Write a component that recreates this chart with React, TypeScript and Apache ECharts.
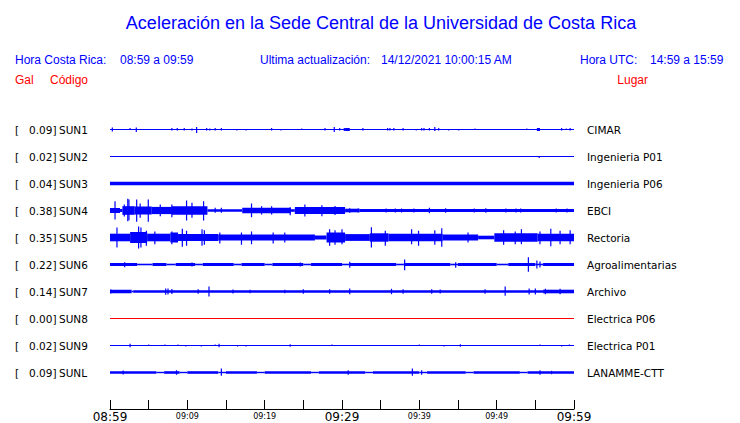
import React, { useEffect, useRef } from "react";
import * as echarts from "echarts";

// Station metadata
const codes = ["SUN1", "SUN2", "SUN3", "SUN4", "SUN5", "SUN6", "SUN7", "SUN8", "SUN9", "SUNL"];
const places = ["CIMAR", "Ingenieria P01", "Ingenieria P06", "EBCI", "Rectoria", "Agroalimentarias", "Archivo", "Electrica P06", "Electrica P01", "LANAMME-CTT"];
const peaks = [0.09, 0.02, 0.04, 0.38, 0.35, 0.22, 0.14, 0.0, 0.02, 0.09];
const traceColors = ["#0000ff", "#0000ff", "#0000ff", "#0000ff", "#0000ff", "#0000ff", "#0000ff", "#ff0000", "#0000ff", "#0000ff"];

// x-axis tick labels every 10 minutes (minutes since 08:59)
const tickLabels = ["08:59", "09:09", "09:19", "09:29", "09:39", "09:49", "09:59"];
const majorLabels = ["08:59", "09:29", "09:59"];

// Header texts
const titleText = "Aceleración en la Sede Central de la Universidad de Costa Rica";
const localLabel = "Hora Costa Rica:";
const localRange = "08:59 a 09:59";
const updateLabel = "Ultima actualización:";
const updateValue = "14/12/2021 10:00:15 AM";
const utcLabel = "Hora UTC:";
const utcRange = "14:59 a 15:59";

// Envelope segments per trace: [tStart (min), tEnd (min), half-amplitude]
const segSUN1 = [[0, 60, 0.5], [30.4, 31.0, 1.5], [55.2, 55.6, 1.5]];
const segSUN2 = [[0, 60, 0.5]];
const segSUN3 = [[0, 60, 1.7]];
const segSUN4 = [
  [0, 1.3, 2.5], [1.3, 1.6, 1.5], [1.6, 3.2, 4.3], [3.2, 5.4, 4], [5.4, 8, 3.6], [8, 12.6, 4.2],
  [12.6, 17.1, 1.3], [17.1, 23.4, 2.7], [23.4, 23.9, 1.3], [23.9, 30.4, 3.4], [30.4, 32.3, 1.8], [32.3, 60, 1.5],
];
const segSUN5 = [
  [0, 2.6, 3.8], [2.6, 4.8, 5.5], [4.8, 7.8, 3.8], [7.8, 8.8, 5], [8.8, 14, 3.4], [14, 26.5, 3],
  [26.5, 28, 2], [28, 30.4, 5], [30.4, 33.6, 3.4], [33.6, 36, 4.2], [36, 43, 3.8], [43, 47.6, 3],
  [47.6, 49.7, 1.8], [49.7, 55.3, 4.2], [55.3, 60, 3.8],
];
const segSUN6 = [
  [0, 3.5, 1.5], [3.5, 5.5, 0.8], [5.5, 7.3, 1.5], [7.3, 8.5, 0.8], [8.5, 11, 1.5], [11, 12, 0.8],
  [12, 16, 1.5], [16, 17, 0.8], [17, 20, 1.5], [20, 21, 0.8], [21, 25, 1.5], [25, 26, 0.8],
  [26, 30, 1.5], [30, 31, 0.8], [31, 37, 1.5], [37, 38, 0.8], [38, 44, 1.5], [44, 45, 0.8],
  [45, 50, 1.5], [50, 51.5, 0.8], [51.5, 55, 1.5], [55, 56, 0.8], [56, 60, 1.5],
];
const segSUN7 = [[0, 2.8, 1.7], [2.8, 3.0, 0.8], [3.0, 56, 1.3], [56, 60, 1.8]];
const segSUN8 = [[0, 60, 0.5]];
const segSUN9 = [[0, 60, 0.5]];
const segSUNL = [
  [0, 6, 1.3], [6, 7, 0.7], [7, 9, 1.3], [9, 10, 0.7], [10, 14, 1.3], [14, 15, 0.7], [15, 19, 1.3],
  [19, 20, 0.7], [20, 26, 1.3], [26, 27, 0.7], [27, 33, 1.3], [33, 34, 0.7], [34, 40, 1.3],
  [40, 41, 0.7], [41, 46, 1.3], [46, 47, 0.7], [47, 53, 1.3], [53, 54, 0.7], [54, 60, 1.3],
];

// Peaks / spikes per trace: [t (min), up, down]
const spkSUN1 = [
  [0.3, 2, 2], [2.6, 1.5, 0], [3.4, 2, 2.5], [8.0, 1.5, 1], [8.7, 1.5, 1], [9.6, 1.5, 1], [10.6, 1, 1],
  [11.2, 2.5, 3.5], [12.5, 1.5, 1], [12.9, 1, 1], [13.6, 1.5, 1], [14.4, 1.5, 1], [16.4, 0, 1],
  [17.6, 0, 1], [20.9, 1.5, 1], [22.1, 0, 1], [24.8, 1, 0], [27.8, 1.5, 1], [29.0, 2.5, 2.5],
  [29.7, 1.5, 1], [30.3, 1.5, 1.5], [32.7, 1.5, 1], [35.9, 1.5, 1], [36.2, 1.5, 1], [36.7, 1.5, 1],
  [37.9, 1.5, 1], [39.6, 0, 1], [40.3, 1.5, 1], [40.6, 1.5, 1], [41.3, 1.5, 1], [42.0, 2.5, 1.5],
  [42.5, 1.5, 1], [43.8, 0, 1], [45.1, 0, 1], [47.2, 1, 0], [53.9, 1, 0], [58.4, 1.5, 1],
  [59.0, 1, 0], [59.5, 1.5, 1],
];
const spkSUN2 = [[55.5, 0, 1.5]];
const spkSUN3: number[][] = [];
const spkSUN4 = [
  [0.65, 9.3, 9], [1.85, 6, 6], [2.3, 11.7, 10.7], [2.45, 11, 9.7], [3.45, 11, 11.3], [3.9, 7, 7.3],
  [4.95, 11, 11.3], [6.5, 6, 5.7], [8.0, 6, 6.7], [9.9, 10, 10], [10.6, 7.7, 7.3], [12.1, 9.3, 10],
  [13.6, 2.7, 2.3], [14.4, 2.7, 2.3], [18.3, 7, 6.7], [19.6, 4.3, 4], [20.9, 4.3, 4], [23.3, 3.3, 4.7],
  [25.2, 6, 6], [27.4, 5.3, 5.7], [29.1, 4.5, 4.5], [29.9, 2.7, 3.3], [31.0, 2.3, 2.3], [32.1, 2, 2],
  [35.7, 2, 2], [36.9, 2, 2], [37.7, 2, 2], [39.3, 2, 2], [41.3, 2.7, 2.7], [43.4, 2.3, 2.3],
  [47.1, 2, 2], [48.6, 2.3, 2.3], [51.2, 2, 2], [52.5, 2, 2], [53.1, 2, 2], [57.7, 2, 2], [59.1, 2, 2],
];
const spkSUN5 = [
  [0.9, 10, 10], [3.7, 11, 11], [4.0, 10, 10], [4.7, 6.7, 8.3], [5.8, 6, 6.7], [8.0, 6, 6.7],
  [9.35, 8.7, 9.3], [9.9, 6.7, 8.3], [11.9, 8.3, 8.3], [12.2, 7.3, 7.3], [14.2, 5, 6], [17.0, 5, 7.3],
  [18.3, 6, 6.7], [21.1, 5, 6], [22.6, 5, 5], [28.4, 8.3, 8.3], [29.1, 7.3, 7.3], [30.0, 8.3, 6.7],
  [33.8, 10.3, 10], [35.6, 6.7, 8.3], [39.0, 8.3, 6.7], [39.9, 6.7, 8.3], [42.0, 7.3, 7.3],
  [42.9, 9.3, 9.3], [46.3, 5, 5], [50.9, 7.3, 7.3], [52.4, 6, 6.7], [53.2, 8.3, 6.7], [55.6, 6, 6.7],
  [57.0, 8.7, 8.7], [58.2, 6.7, 6.7], [59.5, 7.3, 6.7],
];
const spkSUN6 = [
  [1.9, 2.3, 2.7], [10.6, 2, 2], [24.6, 2, 2], [31.0, 2.7, 3.3], [38.1, 5, 5.7], [44.7, 2.3, 3.3],
  [54.1, 7.3, 7.3], [55.2, 4, 4], [55.6, 3, 3],
];
const spkSUN7 = [
  [0.1, 2, 2], [7.2, 3, 3.3], [7.5, 3, 3], [8.0, 2.5, 2.5], [11.4, 2.3, 2.3], [12.8, 5, 5],
  [15.9, 2, 2], [18.1, 1.7, 1.7], [22.6, 1.7, 1.7], [25.0, 2.3, 2.3], [28.4, 2.3, 2.3], [31.0, 3, 2.7],
  [36.4, 2.7, 2.7], [37.9, 2.3, 2.3], [41.6, 2.3, 2.3], [42.7, 2, 2], [48.5, 2.3, 2.3], [51.1, 5, 4.3],
  [54.2, 3, 3], [55.0, 3, 3], [56.3, 2.7, 2.7], [58.2, 2.7, 2.7],
];
const spkSUN8: number[][] = [];
const spkSUN9 = [
  [2.6, 1.7, 1.7], [5.0, 1, 0], [7.1, 1, 0], [8.8, 1, 0], [9.8, 0, 1], [11.8, 0, 1], [13.6, 1, 0],
  [14.1, 1.7, 1.7], [16.5, 0, 1], [17.6, 0, 1], [23.3, 1.3, 1.3], [28.7, 1, 0], [40.0, 1, 0],
  [43.2, 0, 1], [45.3, 1.3, 1.3], [55.6, 1, 0], [58.4, 0, 1], [59.4, 1, 0],
];
const spkSUNL = [
  [1.7, 2, 2], [8.6, 2.3, 2.3], [14.4, 4, 3.3], [30.8, 2.3, 2.3], [39.1, 4, 3.3], [40.3, 2.3, 2.3],
  [55.6, 2.3, 2.3], [57.1, 1.7, 1.7],
];

const segments = [segSUN1, segSUN2, segSUN3, segSUN4, segSUN5, segSUN6, segSUN7, segSUN8, segSUN9, segSUNL];
const spikes = [spkSUN1, spkSUN2, spkSUN3, spkSUN4, spkSUN5, spkSUN6, spkSUN7, spkSUN8, spkSUN9, spkSUNL];

// layout helpers
const ROW0 = 13.5;
const ROW_GAP = 27;
const rowBase = (i: number) => ROW0 + ROW_GAP * i;

const BLUE = "#0000ff";
const RED = "#ff0000";
const HEADER_FONT = "'Liberation Sans', Arial, sans-serif";
const LABEL_FONT = "'DejaVu Sans', sans-serif";

export default function App() {
  const ref = useRef<HTMLDivElement>(null);

  useEffect(() => {
    document.body.style.margin = "0";
    if (!ref.current) return;
    const chart = echarts.init(ref.current, null, { renderer: "svg" });

    const bandData: number[][] = [];
    segments.forEach((segs, i) => segs.forEach((s) => bandData.push([i, s[0], s[1], s[2]])));
    const spikeData: number[][] = [];
    spikes.forEach((sp, i) => sp.forEach((s) => spikeData.push([i, s[0], s[1], s[2]])));
    const labelData = codes.map((_, i) => [i, 0]);

    const hdr = (text: string, x: number, y: number, color: string, size: number, align: string = "left") => ({
      type: "text",
      x,
      y,
      style: { text, fill: color, font: `${size}px ${HEADER_FONT}`, textAlign: align, textVerticalAlign: "middle" },
    });

    const option: any = {
      animation: false,
      backgroundColor: "#ffffff",
      grid: { left: 110, right: 166, top: 116, bottom: 14, containLabel: false },
      xAxis: {
        type: "value",
        min: 0,
        max: 60,
        interval: 5,
        splitLine: { show: false },
        axisLine: { show: true, onZero: false, lineStyle: { color: "#000", width: 1 } },
        axisTick: { show: true, inside: true, length: 9, lineStyle: { color: "#000", width: 1 } },
        axisLabel: {
          show: true,
          margin: 1,
          showMinLabel: true,
          showMaxLabel: true,
          formatter: (v: number) => {
            if (v % 10 !== 0) return "";
            const lab = tickLabels[v / 10];
            return majorLabels.includes(lab) ? `{big|${lab}}` : `{small|${lab}}`;
          },
          rich: {
            big: { fontFamily: LABEL_FONT, fontSize: 12, lineHeight: 14, color: "#000" },
            small: { fontFamily: LABEL_FONT, fontSize: 8, lineHeight: 12, color: "#000" },
          },
        },
      },
      yAxis: { type: "value", min: 0, max: 293, inverse: true, show: false, splitLine: { show: false } },
      graphic: [
        hdr(titleText, 381, 22.5, BLUE, 18, "center"),
        hdr(localLabel, 15, 60, BLUE, 12),
        hdr(localRange, 120, 60, BLUE, 12),
        hdr(updateLabel, 260, 60, BLUE, 12),
        hdr(updateValue, 381, 60, BLUE, 12),
        hdr(utcLabel, 580, 60, BLUE, 12),
        hdr(utcRange, 650, 60, BLUE, 12),
        hdr("Gal", 15, 80, RED, 12),
        hdr("Código", 50, 80, RED, 12),
        hdr("Lugar", 648, 80, RED, 12, "right"),
      ],
      series: [
        {
          type: "custom",
          name: "bands",
          clip: false,
          data: bandData,
          encode: { x: [1, 2], y: 0 },
          renderItem: (_p: any, api: any) => {
            const i = api.value(0);
            const hw = api.value(3);
            const base = rowBase(i);
            const p0 = api.coord([api.value(1), base - hw]);
            const p1 = api.coord([api.value(2), base + hw]);
            return {
              type: "rect",
              shape: { x: p0[0], y: p0[1], width: p1[0] - p0[0], height: p1[1] - p0[1] },
              style: { fill: traceColors[i] },
            };
          },
        },
        {
          type: "custom",
          name: "spikes",
          clip: false,
          data: spikeData,
          encode: { x: 1, y: 0 },
          renderItem: (_p: any, api: any) => {
            const i = api.value(0);
            const base = rowBase(i);
            const t = api.value(1);
            const p0 = api.coord([t, base - api.value(2)]);
            const p1 = api.coord([t, base + api.value(3)]);
            return {
              type: "rect",
              shape: { x: p0[0] - 0.6, y: p0[1], width: 1.2, height: Math.max(1, p1[1] - p0[1]) },
              style: { fill: traceColors[i] },
            };
          },
        },
        {
          type: "custom",
          name: "labels",
          clip: false,
          data: labelData,
          encode: { x: 1, y: 0 },
          renderItem: (_p: any, api: any) => {
            const i = api.value(0);
            const pL = api.coord([0, rowBase(i)]);
            const pR = api.coord([60, rowBase(i)]);
            const font = `10.5px ${LABEL_FONT}`;
            return {
              type: "group",
              children: [
                { type: "text", x: pL[0] - 95, y: pL[1], style: { text: "[", fill: "#000", font, textVerticalAlign: "middle" } },
                {
                  type: "text",
                  x: pL[0] - 53.5,
                  y: pL[1],
                  style: { text: `${peaks[i].toFixed(2)}]`, fill: "#000", font, textAlign: "right", textVerticalAlign: "middle" },
                },
                { type: "text", x: pL[0] - 51, y: pL[1], style: { text: codes[i], fill: "#000", font, textVerticalAlign: "middle" } },
                { type: "text", x: pR[0] + 13, y: pR[1], style: { text: places[i], fill: "#000", font, textVerticalAlign: "middle" } },
              ],
            };
          },
        },
      ],
    };

    chart.setOption(option);
    return () => chart.dispose();
  }, []);

  return <div ref={ref} style={{ width: 740, height: 423 }} />;
}
